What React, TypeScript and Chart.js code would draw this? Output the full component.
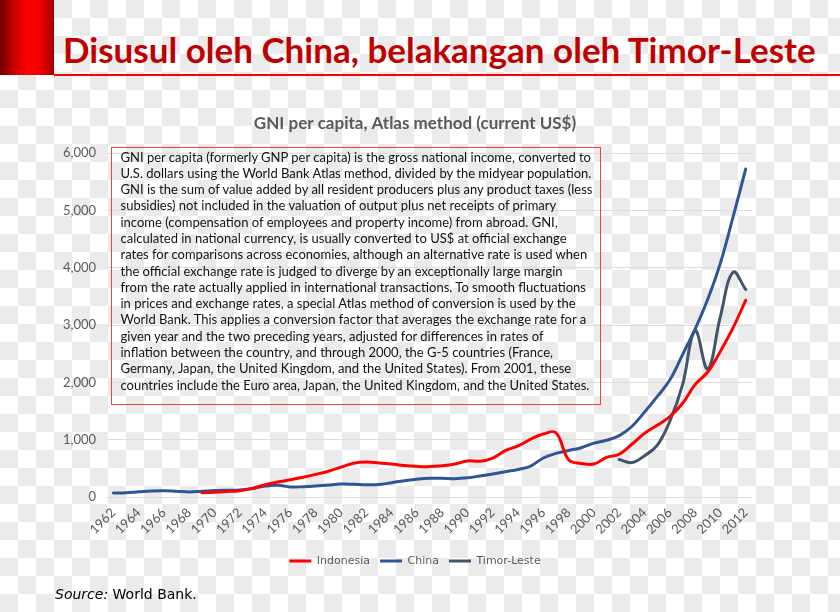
import React, { useEffect, useRef } from "react";
import { Chart, registerables } from "chart.js";

Chart.register(...registerables);

const years = [
  "1962", "1963", "1964", "1965", "1966", "1967", "1968", "1969", "1970", "1971",
  "1972", "1973", "1974", "1975", "1976", "1977", "1978", "1979", "1980", "1981",
  "1982", "1983", "1984", "1985", "1986", "1987", "1988", "1989", "1990", "1991",
  "1992", "1993", "1994", "1995", "1996", "1997", "1998", "1999", "2000", "2001",
  "2002", "2003", "2004", "2005", "2006", "2007", "2008", "2009", "2010", "2011",
  "2012",
];

const indonesia = [
  null, null, null, null, null, null, null,
  75, 85, 95, 110, 150, 215, 260, 300, 345, 395,
  450, 520, 590, 610, 595, 575, 550, 535, 530, 545,
  575, 628, 625, 680, 810, 890, 1010, 1100, 1120, 650,
  585, 575, 690, 745, 920, 1110, 1250, 1400, 1630, 1960,
  2180, 2540, 2950, 3430,
];

const china = [
  70, 75, 90, 105, 110, 100, 88, 100, 112, 118,
  122, 150, 190, 205, 175, 180, 192, 210, 225, 222,
  212, 218, 250, 285, 310, 326, 325, 320, 335, 366,
  400, 442, 480, 540, 680, 760, 810, 860, 940, 990,
  1070, 1230, 1480, 1750, 2040, 2480, 2930, 3450, 4080, 4880,
  5720,
];

const timorLeste = [
  null, null, null, null, null, null, null, null, null, null,
  null, null, null, null, null, null, null, null, null, null,
  null, null, null, null, null, null, null, null, null, null,
  null, null, null, null, null, null, null, null, null, null,
  655, 600, 720, 900, 1320, 1950, 2900, 2230, 3150, 3920,
  3620,
];

const seriesNames = ["Indonesia", "China", "Timor-Leste"];
const seriesColors = ["#ff0000", "#2f5597", "#44546a"];

const headline = "Disusul oleh China, belakangan oleh Timor-Leste";
const chartTitle = "GNI per capita, Atlas method (current US$)";
const sourceLabel = "Source:";
const sourceText = " World Bank.";

const noteLines = [
  "GNI per capita (formerly GNP per capita) is the gross national income, converted to",
  "U.S. dollars using the World Bank Atlas method, divided by the midyear population.",
  "GNI is the sum of value added by all resident producers plus any product taxes (less",
  "subsidies) not included in the valuation of output plus net receipts of primary",
  "income (compensation of employees and property income) from abroad. GNI,",
  "calculated in national currency, is usually converted to US$ at official exchange",
  "rates for comparisons across economies, although an alternative rate is used when",
  "the official exchange rate is judged to diverge by an exceptionally large margin",
  "from the rate actually applied in international transactions. To smooth fluctuations",
  "in prices and exchange rates, a special Atlas method of conversion is used by the",
  "World Bank. This applies a conversion factor that averages the exchange rate for a",
  "given year and the two preceding years, adjusted for differences in rates of",
  "inflation between the country, and through 2000, the G-5 countries (France,",
  "Germany, Japan, the United Kingdom, and the United States). From 2001, these",
  "countries include the Euro area, Japan, the United Kingdom, and the United States.",
];

const seriesData = [indonesia, china, timorLeste];

export default function App() {
  const canvasRef = useRef<HTMLCanvasElement | null>(null);

  useEffect(() => {
    document.body.style.margin = "0";
    const canvas = canvasRef.current;
    if (!canvas) return;
    const chart = new Chart(canvas, {
      type: "line",
      data: {
        labels: years,
        datasets: seriesNames.map((name, i) => ({
          label: name,
          data: seriesData[i],
          borderColor: seriesColors[i],
          backgroundColor: seriesColors[i],
          borderWidth: 3,
          pointRadius: 0,
          pointHoverRadius: 0,
          tension: 0.4,
          fill: false,
          spanGaps: false,
          borderCapStyle: "round",
          borderJoinStyle: "round",
        })),
      },
      options: {
        responsive: false,
        animation: false,
        events: [],
        layout: { padding: { top: 100, left: 0, right: 10, bottom: 35.5 } },
        plugins: {
          title: {
            display: true,
            text: chartTitle,
            color: "#595959",
            font: { family: "Lato", size: 17, weight: "bold" },
            padding: { top: 13.5, bottom: 19.1 },
          },
          legend: {
            display: true,
            position: "bottom",
            labels: {
              color: "#595959",
              font: { family: "DejaVu Sans", size: 11 },
              boxWidth: 22,
              boxHeight: 3,
              padding: 10,
              generateLabels: (c: any) =>
                Chart.defaults.plugins.legend.labels
                  .generateLabels(c)
                  .map((l: any) => ({ ...l, lineWidth: 0 })),
            },
          },
          tooltip: { enabled: false },
        },
        scales: {
          x: {
            type: "category",
            offset: true,
            grid: { display: false, drawTicks: false },
            border: { display: false },
            ticks: {
              autoSkip: false,
              minRotation: 45,
              maxRotation: 45,
              padding: 8,
              color: "#595959",
              font: { family: "Lato", size: 13 },
              callback: (_v: any, index: number) => (index % 2 === 0 ? years[index] : ""),
            },
            afterFit: (axis: any) => {
              axis.height = 48.5;
            },
          },
          y: {
            type: "linear",
            min: 0,
            max: 6000,
            grid: { color: "#dcdcdc", lineWidth: 1, drawTicks: false },
            border: { display: false },
            ticks: {
              stepSize: 1000,
              padding: 11,
              color: "#595959",
              font: { family: "Lato", size: 13 },
              callback: (v: any) => Number(v).toLocaleString("en-US"),
            },
            afterFit: (axis: any) => {
              axis.width = 107;
            },
          },
          yRight: {
            type: "linear",
            position: "right",
            display: true,
            grid: { display: false, drawTicks: false },
            border: { display: false },
            ticks: { display: false },
            afterFit: (axis: any) => {
              axis.width = 78;
            },
          },
        },
      },
    } as any);
    return () => chart.destroy();
  }, []);

  return (
    <div
      style={{
        position: "fixed",
        left: 0,
        top: 0,
        width: 840,
        height: 612,
        overflow: "hidden",
        backgroundColor: "#ffffff",
        backgroundImage: "repeating-conic-gradient(#ebebeb 0% 25%, #ffffff 0% 50%)",
        backgroundSize: "36px 36px",
        backgroundPosition: "0 0",
      }}
    >
      <div
        style={{
          position: "absolute",
          left: 0,
          top: 0,
          width: 54,
          height: 75,
          background:
            "linear-gradient(to right, #6e0000 0%, #c80000 25%, #ff0000 50%, #f00000 75%, #a00000 100%)",
        }}
      />
      <div
        style={{
          position: "absolute",
          left: 54,
          top: 74,
          width: 786,
          height: 2,
          background: "#ff0000",
        }}
      />
      <div
        style={{
          position: "absolute",
          left: 63,
          top: 28,
          fontFamily: "Lato, sans-serif",
          fontWeight: 700,
          fontSize: 35,
          lineHeight: "42px",
          color: "#c00000",
          whiteSpace: "nowrap",
        }}
      >
        {headline}
      </div>
      <canvas
        ref={canvasRef}
        width={840}
        height={612}
        style={{ position: "absolute", left: 0, top: 0, width: 840, height: 612 }}
      />
      <div
        style={{
          position: "absolute",
          left: 111,
          top: 147,
          width: 490,
          height: 258,
          boxSizing: "border-box",
          border: "1.5px solid #f04040",
          paddingLeft: 8.5,
          paddingTop: 0.5,
          fontFamily: "Lato, sans-serif",
          fontSize: 13,
          lineHeight: "16.3px",
          color: "#111111",
        }}
      >
        {noteLines.map((line, i) => (
          <div key={i} style={{ whiteSpace: "nowrap" }}>
            {line}
          </div>
        ))}
      </div>
      <div
        style={{
          position: "absolute",
          left: 55,
          top: 585,
          fontFamily: "'DejaVu Sans', sans-serif",
          fontSize: 14,
          lineHeight: "19px",
          color: "#000000",
          whiteSpace: "pre",
        }}
      >
        <span style={{ fontStyle: "italic" }}>{sourceLabel}</span>
        {sourceText}
      </div>
    </div>
  );
}
